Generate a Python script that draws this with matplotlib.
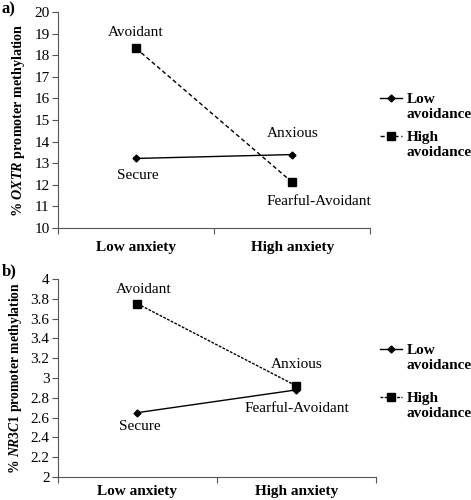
import matplotlib
matplotlib.use("Agg")
import matplotlib.pyplot as plt
from matplotlib.lines import Line2D
from matplotlib.legend_handler import HandlerLine2D

plt.rcParams['font.family'] = ['Liberation Serif', 'DejaVu Serif']
plt.rcParams['mathtext.fontset'] = 'custom'
plt.rcParams['mathtext.rm'] = 'Liberation Serif:bold'
plt.rcParams['mathtext.bf'] = 'Liberation Serif:bold'
plt.rcParams['mathtext.it'] = 'Liberation Serif:italic:bold'
plt.rcParams['mathtext.bfit'] = 'Liberation Serif:italic:bold'

categories = ["Low anxiety", "High anxiety"]
series_names = ["Low\navoidance", "High\navoidance"]

oxtr_low_avoid = [13.22, 13.40]
oxtr_high_avoid = [18.32, 12.12]
nr3c1_low_avoid = [2.65, 2.88]
nr3c1_high_avoid = [3.75, 2.92]

oxtr_ticks = [10, 11, 12, 13, 14, 15, 16, 17, 18, 19, 20]
nr3c1_ticks = [2, 2.2, 2.4, 2.6, 2.8, 3, 3.2, 3.4, 3.6, 3.8, 4]
nr3c1_ticklabels = ["2", "2.2", "2.4", "2.6", "2.8", "3", "3.2", "3.4", "3.6", "3.8", "4"]


class TopLineHandler(HandlerLine2D):
    def create_artists(self, legend, orig_handle, xdescent, ydescent,
                       width, height, fontsize, trans):
        return super().create_artists(legend, orig_handle, xdescent,
                                      ydescent - 1.15 * fontsize, width, height,
                                      fontsize, trans)


fig = plt.figure(figsize=(4.71, 5.0), dpi=100)


def panel(rect, low, high, yticks, yticklabels, gene, letter, letter_y,
          offsets, legend_y, dash, xpad, labelspacing, ylab_size):
    ax = fig.add_axes(rect)
    x = list(range(len(categories)))
    ax.plot(x, low, color='black', lw=1.0, marker='D', ms=3.5, label=series_names[0])
    ax.plot(x, high, color='black', lw=1.0, ls=dash, marker='s', ms=5.5, label=series_names[1])
    ax.set_xlim(-0.5, 1.5)
    ax.set_ylim(yticks[0], yticks[-1])
    ax.set_yticks(yticks)
    ax.set_yticklabels(yticklabels, fontsize=11)
    ax.set_xticks([-0.5, 0.5, 1.5])
    ax.set_xticklabels([])
    ax.set_xticks(x, minor=True)
    ax.set_xticklabels(categories, minor=True, fontsize=11, fontweight='bold')
    ax.tick_params(axis='x', which='minor', length=0, pad=xpad)
    ax.tick_params(axis='x', which='major', length=4, direction='out', color='#555555')
    ax.tick_params(axis='y', length=4, direction='out', color='#555555', pad=2)
    for s in ['top', 'right']:
        ax.spines[s].set_visible(False)
    for s in ['left', 'bottom']:
        ax.spines[s].set_color('#555555')
        ax.spines[s].set_linewidth(0.8)
    ax.set_ylabel(r'% $\mathit{' + gene + r'}$ promoter methylation', fontsize=ylab_size,
                  fontweight='bold', labelpad=5)
    names = ["Secure", "Anxious", "Avoidant", "Fearful-Avoidant"]
    pts = [(0, low[0]), (1, low[1]), (0, high[0]), (1, high[1])]
    for name, p, off in zip(names, pts, offsets):
        ax.annotate(name, xy=p, xytext=off, textcoords='offset pixels',
                    ha='center', va='center', fontsize=11)
    fig.text(0.004, letter_y, letter, fontsize=12, fontweight='bold',
             ha='left', va='center')
    handles = [Line2D([], [], color='black', lw=1.0, marker='D', ms=3.5),
               Line2D([], [], color='black', lw=1.0, ls=dash, marker='s', ms=5.5)]
    fig.legend(handles, series_names, loc='center left',
               bbox_to_anchor=(0.806, legend_y), frameon=False,
               prop={'size': 11, 'weight': 'bold'}, handlelength=1.45,
               handletextpad=0.3, labelspacing=labelspacing, borderpad=0,
               borderaxespad=0,
               handler_map={Line2D: TopLineHandler()})
    return ax


panel([0.123, 0.544, 0.663, 0.432], oxtr_low_avoid, oxtr_high_avoid,
      oxtr_ticks, [str(t) for t in oxtr_ticks], 'OXTR', 'a)', 0.982,
      [(2, -17), (1, 21), (0, 16), (27, -19)], 0.748, (0, (3, 2)), 9, 0.7, 10.2)
panel([0.123, 0.046, 0.675, 0.396], nr3c1_low_avoid, nr3c1_high_avoid,
      nr3c1_ticks, nr3c1_ticklabels, 'NR3C1', 'b)', 0.458,
      [(2, -14), (0, 25), (6, 14), (1, -23)], 0.236, (0, (2, 1)), 6, 1.3, 9.8)

fig.savefig("out.png", dpi=100)
